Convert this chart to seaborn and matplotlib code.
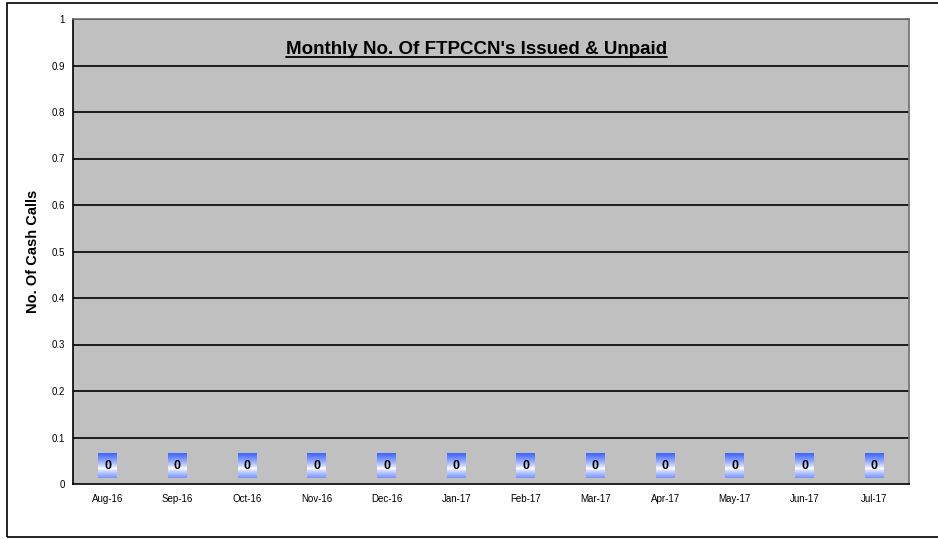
import numpy as np
import matplotlib
matplotlib.use("Agg")
import matplotlib.pyplot as plt
import seaborn as sns
from matplotlib.offsetbox import AnnotationBbox, OffsetImage
from matplotlib.lines import Line2D

# Data
months = ["Aug-16", "Sep-16", "Oct-16", "Nov-16", "Dec-16", "Jan-17",
          "Feb-17", "Mar-17", "Apr-17", "May-17", "Jun-17", "Jul-17"]
unpaid = [0, 0, 0, 0, 0, 0, 0, 0, 0, 0, 0, 0]
y_ticks = [0, 0.1, 0.2, 0.3, 0.4, 0.5, 0.6, 0.7, 0.8, 0.9, 1]

sns.set_style("white")
plt.rcParams["font.family"] = ["Liberation Sans", "DejaVu Sans"]
plt.rcParams["text.color"] = "black"
plt.rcParams["axes.labelcolor"] = "black"
plt.rcParams["xtick.color"] = "black"
plt.rcParams["ytick.color"] = "black"

fig = plt.figure(figsize=(9.38, 5.39), dpi=100)
ax = fig.add_axes([73 / 938, 1 - 484 / 539, 836 / 938, 465 / 539])

sns.barplot(x=months, y=unpaid, color="#3355ff", ax=ax)

ax.set_facecolor("#c0c0c0")
ax.set_ylim(0, 1)
ax.set_xlim(-0.5, len(months) - 0.5)
ax.set_yticks(y_ticks)
ax.set_yticklabels([f"{t:g}" for t in y_ticks], fontsize=7)
ax.tick_params(axis="y", direction="out", length=4, width=1, color="black", pad=2)
ax.tick_params(axis="x", which="major", length=0, labelsize=7, pad=7)
ax.set_xticks(np.arange(-0.5, len(months), 1), minor=True)
ax.tick_params(axis="x", which="minor", direction="out", length=4, width=1, color="black")
for t in y_ticks[1:]:
    ax.axhline(t, color="black", lw=1.2, zorder=1)
for side in ["left", "bottom"]:
    ax.spines[side].set_color("black")
    ax.spines[side].set_linewidth(1.2)
for side in ["top", "right"]:
    ax.spines[side].set_color("#707070")
    ax.spines[side].set_linewidth(1.2)

ax.set_ylabel("No. Of Cash Calls", fontsize=10.5, fontweight="bold", labelpad=8)

# gradient value labels (blue - white - blue)
rows = 25
t = np.linspace(0, 1, rows)
g = np.clip(np.abs(t - 0.62) / 0.62, 0, 1) ** 0.8
blue = np.array([0.25, 0.4, 1.0])
white = np.array([1.0, 1.0, 1.0])
cols = white[None, :] * (1 - g[:, None]) + blue[None, :] * g[:, None]
cols = np.repeat(cols[:, None, :], 19, axis=1)
for i, p in enumerate(ax.patches):
    xc = p.get_x() + p.get_width() / 2
    img = OffsetImage(cols, zoom=1, dpi_cor=False)
    ab = AnnotationBbox(img, (xc, p.get_height()), xybox=(0, 13.3), boxcoords="offset points",
                        frameon=False, zorder=3)
    ax.add_artist(ab)
    ax.annotate(str(unpaid[i]), (xc, p.get_height()), xytext=(0, 13.3), textcoords="offset points",
                ha="center", va="center", fontsize=9, fontweight="bold", zorder=4)

# title with underline
title = ax.text(0.483, 0.934, "Monthly No. Of FTPCCN's Issued & Unpaid", transform=ax.transAxes,
                ha="center", va="center", fontsize=13.5, fontweight="bold")
fig.canvas.draw()
bb = title.get_window_extent().transformed(fig.transFigure.inverted())
fig.add_artist(Line2D([bb.x0, bb.x1], [bb.y0 + 0.002, bb.y0 + 0.002], color="black", lw=1.3,
                      transform=fig.transFigure))

# outer chart border (right edge falls outside the image)
fig.add_artist(plt.Rectangle((7 / 938, 2 / 539), 940 / 938, 534 / 539, transform=fig.transFigure,
                             fill=False, edgecolor="black", lw=1.2))

fig.savefig("out.png", dpi=100)
